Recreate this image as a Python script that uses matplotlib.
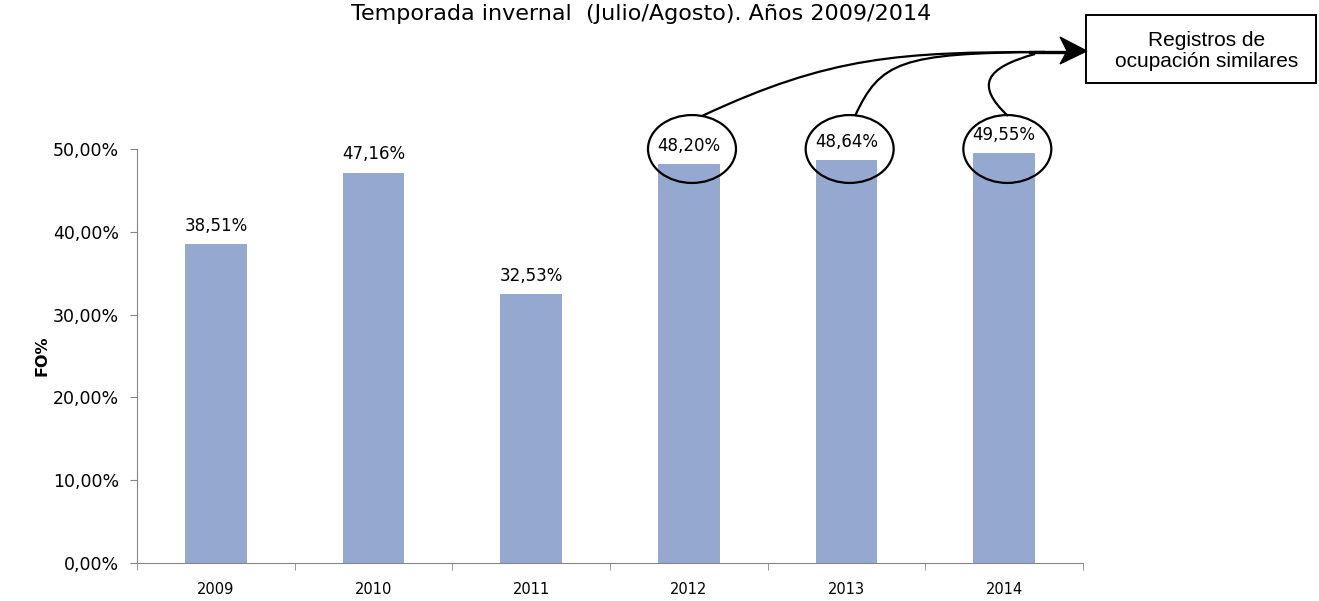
import numpy as np
import matplotlib.pyplot as plt
from matplotlib.patches import Ellipse, PathPatch, Polygon, Rectangle
from matplotlib.path import Path

years = ['2009', '2010', '2011', '2012', '2013', '2014']
fo = [0.3851, 0.4716, 0.3253, 0.4820, 0.4864, 0.4955]
fo_labels = ['38,51%', '47,16%', '32,53%', '48,20%', '48,64%', '49,55%']
yticks = [0.0, 0.1, 0.2, 0.3, 0.4, 0.5]
ytick_labels = ['0,00%', '10,00%', '20,00%', '30,00%', '40,00%', '50,00%']
circled = [3, 4, 5]

W, H = 1319, 601
fig = plt.figure(figsize=(W / 100, H / 100), dpi=100)
ax = fig.add_axes([137 / W, 1 - 563 / H, (1083 - 137) / W, (563 - 149) / H])

pos = np.arange(len(years))
ax.bar(pos, fo, 0.39, color='#95a9d0')
for p, v, t in zip(pos, fo, fo_labels):
    ax.text(p, v + 0.011, t, ha='center', va='bottom', fontsize=12)

ax.set_xlim(-0.5, len(years) - 0.5)
ax.set_ylim(0, 0.5)
ax.set_yticks(yticks)
ax.set_yticklabels(ytick_labels, fontsize=12.5)
ax.set_xticks(pos)
ax.set_xticklabels(years, fontsize=10.5)
ax.set_xticks(np.arange(-0.5, len(years), 1), minor=True)
ax.tick_params(axis='x', which='major', length=0, pad=14)
ax.tick_params(axis='x', which='minor', length=5, color='#868686')
ax.tick_params(axis='y', length=5, color='#868686', pad=8)
for s in ['top', 'right']:
    ax.spines[s].set_visible(False)
for s in ['left', 'bottom']:
    ax.spines[s].set_color('#868686')
ax.set_ylabel('FO%', fontsize=11.5, fontweight='bold')
ax.yaxis.set_label_coords(-0.092, 0.5)

fig.text(641 / W, 1 - 14 / H, 'Temporada invernal  (Julio/Agosto). Años 2009/2014',
         ha='center', va='center', fontsize=16)

# circles round the last three values
for i in circled:
    ax.add_patch(Ellipse((i + 0.02, 0.5), 0.558, 0.082, fill=False, ec='black',
                         lw=1.6, clip_on=False))

# curves to the note box (pixel coords)
def fp(x, y):
    return (x / W, 1 - y / H)

curves = [
    [(702, 116), (830, 56), (900, 52), (1045, 52)],
    [(855, 116), (880, 62), (900, 53), (1045, 52)],
    [(1008, 116), (975, 85), (985, 68), (1035, 54)],
]
for c in curves:
    path = Path([fp(*p) for p in c], [Path.MOVETO, Path.CURVE4, Path.CURVE4, Path.CURVE4])
    fig.add_artist(PathPatch(path, fill=False, lw=1.6, ec='black', transform=fig.transFigure))
fig.add_artist(plt.Line2D([1030 / W, 1068 / W], [1 - 51.5 / H, 1 - 51.5 / H],
                          lw=2.4, color='black', transform=fig.transFigure))
fig.add_artist(Polygon([fp(1087, 51), fp(1060, 37), fp(1067, 51), fp(1060, 64)],
                       closed=True, fc='black', ec='black', lw=0.8,
                       transform=fig.transFigure))

fig.add_artist(Rectangle(fp(1086, 83), 230 / W, 68 / H, fill=False, ec='black',
                         lw=1.4, transform=fig.transFigure))
fig.text(1207 / W, 1 - 51 / H, 'Registros de\nocupación similares', ha='center',
         va='center', fontsize=15, family='Liberation Sans', linespacing=1.12)

fig.savefig('out.png', dpi=100)
